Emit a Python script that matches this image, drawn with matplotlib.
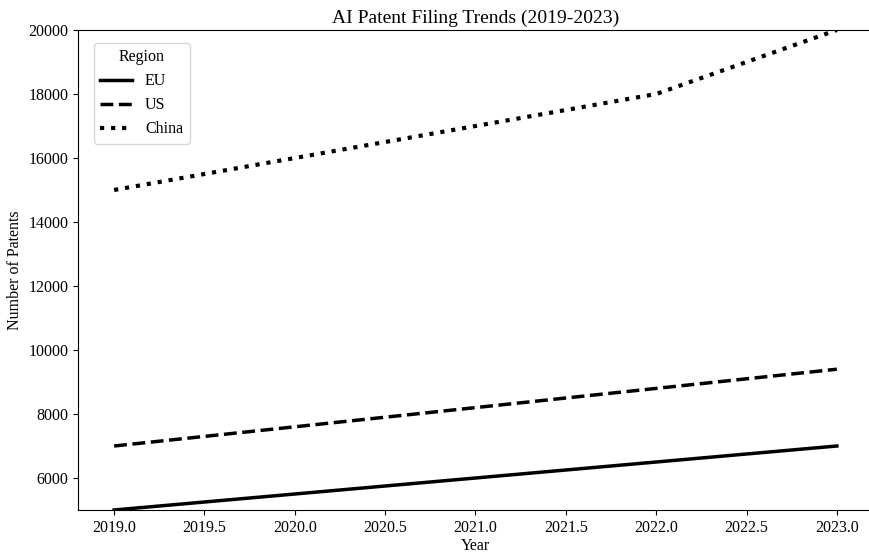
import matplotlib
matplotlib.use("Agg")
import matplotlib.pyplot as plt

# Values
years = [2019, 2020, 2021, 2022, 2023]
eu = [5000, 5500, 6000, 6500, 7000]
us = [7000, 7600, 8200, 8800, 9400]
china = [15000, 16000, 17000, 18000, 20000]

plt.rcParams["font.family"] = ["Liberation Serif", "DejaVu Serif"]
plt.rcParams["font.size"] = 11.5

fig = plt.figure(figsize=(8.7, 5.55), dpi=100)
ax = fig.add_axes([78 / 870, 1 - 510 / 555, 795 / 870, 480 / 555])

ax.plot(years, eu, color="black", linestyle="-", linewidth=2.5, label="EU")
ax.plot(years, us, color="black", linestyle="--", linewidth=2.5, label="US")
ax.plot(years, china, color="black", linestyle=":", linewidth=3, label="China")

ax.set_ylim(5000, 20000)
ax.set_xticks([2019.0, 2019.5, 2020.0, 2020.5, 2021.0, 2021.5, 2022.0, 2022.5, 2023.0])
ax.set_xticklabels(["2019.0", "2019.5", "2020.0", "2020.5", "2021.0",
                    "2021.5", "2022.0", "2022.5", "2023.0"])
ax.spines["right"].set_visible(False)
ax.set_title("AI Patent Filing Trends (2019-2023)", fontsize=14, pad=5)
ax.set_xlabel("Year", labelpad=2)
ax.set_ylabel("Number of Patents")
ax.legend(title="Region", loc="upper left", bbox_to_anchor=(0.01, 0.99))

fig.savefig("out.png", dpi=100)
